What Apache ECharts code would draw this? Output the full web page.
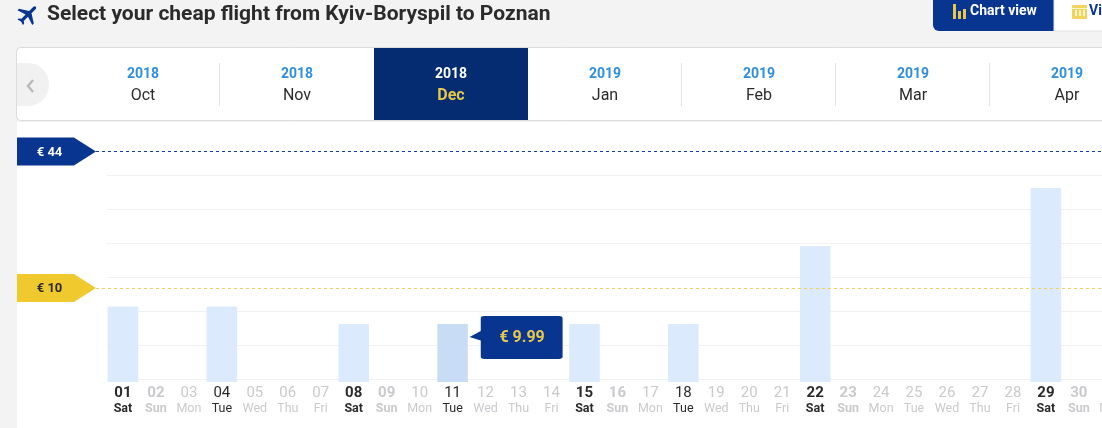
<!DOCTYPE html>
<html><head><meta charset="utf-8">
<style>html,body{margin:0;padding:0;background:#f3f3f3;overflow:hidden}#c{width:1102px;height:428px}</style>
<script src="https://cdn.jsdelivr.net/npm/echarts@6/dist/echarts.min.js"></script>
</head><body><div id="c"></div>
<script>
const days = ['01','02','03','04','05','06','07','08','09','10','11','12','13','14','15','16','17','18','19','20','21','22','23','24','25','26','27','28','29','30','31'];
const weekdays = ['Sat','Sun','Mon','Tue','Wed','Thu','Fri','Sat','Sun','Mon','Tue','Wed','Thu','Fri','Sat','Sun','Mon','Tue','Wed','Thu','Fri','Sat','Sun','Mon','Tue','Wed','Thu','Fri','Sat','Sun','Mon'];
const fares = [13,null,null,13,null,null,null,9.99,null,null,9.99,null,null,null,9.99,null,null,9.99,null,null,null,23.4,null,null,null,null,null,null,33.4,null,null];
const refFares = [44,10];
const refLabels = ['€ 44','€ 10'];
const monthYears = ['2018','2018','2018','2019','2019','2019','2019'];
const monthNames = ['Oct','Nov','Dec','Jan','Feb','Mar','Apr'];
const selectedMonth = 2, selectedDay = 10;

const NAVY='#073590', YEL='#f0c92f', DARK='#2b2b2b', GREY='#c9cacd', FONT='Roboto';
const pentagon='path://M0 0H72L100 50L72 100H0Z';
const callout='path://M12 0H96Q100 0 100 5V95Q100 100 96 100H16Q12 100 12 95V57L0 49L12 35V5Q12 0 16 0Z';

const planeShape=[[21,16],[21,14],[13,9],[13,3.5],[12.5,2.4],[11.5,2],[10.5,2.4],[10,3.5],[10,9],[2,14],[2,16],[10,13.5],[10,19],[8,20.5],[8,22],[11.5,21],[15,22],[15,20.5],[13,19],[13,13.5]];
const planePts=planeShape.map(p=>{const dx=(p[0]-11.5)*1.1,dy=(p[1]-12)*1.1,c=Math.SQRT1_2;return [28+c*dx-c*dy,14.5+c*dx+c*dy];});

const g=[];
g.push({type:'rect',z:-5,shape:{x:17,y:122,width:1085,height:306},style:{fill:'#fff'}});
g.push({type:'rect',z:-4,shape:{x:16.5,y:47.5,width:1100,height:73,r:4},style:{fill:'#fff',stroke:'#dcdcdc',lineWidth:1}});
g.push({type:'rect',z:-3,shape:{x:17,y:63,width:32,height:43,r:[0,21,21,0]},style:{fill:'#f1f1f1'}});
g.push({type:'polyline',z:-2,shape:{points:[[33,80],[28,86],[33,92]]},style:{stroke:'#b9b9b9',lineWidth:2.4,fill:null}});
g.push({type:'rect',z:-3,shape:{x:374,y:48,width:154,height:72},style:{fill:'#052b70'}});
[219.5,681.5,835.5,989.5].forEach(x=>g.push({type:'line',z:-3,shape:{x1:x,y1:63,x2:x,y2:106},style:{stroke:'#e3e3e3',lineWidth:1}}));
monthNames.forEach((m,i)=>{
  const cx=143+154*i, sel=i===selectedMonth;
  g.push({type:'text',x:cx,y:74,style:{text:monthYears[i],font:'700 14px '+FONT,fill:sel?'#fff':'#2f8fdf',align:'center',verticalAlign:'middle'}});
  g.push({type:'text',x:cx,y:96,style:{text:m,font:(sel?'700':'400')+' 16px '+FONT,fill:sel?'#e8c84a':DARK,align:'center',verticalAlign:'middle'}});
});
g.push({type:'polygon',shape:{points:planePts},style:{fill:NAVY}});
g.push({type:'text',x:47,y:15,style:{text:'Select your cheap flight from Kyiv-Boryspil to Poznan',font:'700 21px '+FONT,fill:DARK,align:'left',verticalAlign:'middle'}});
g.push({type:'rect',z:-3,shape:{x:933,y:-6,width:122,height:37,r:[0,0,0,6]},style:{fill:NAVY}});
g.push({type:'rect',z:-3,shape:{x:1054,y:-6,width:60,height:37},style:{fill:'#fff',stroke:'#e4e4e4',lineWidth:1}});
[[953,4,3,15],[958,11,3,8],[963,9,3,10]].forEach(b=>g.push({type:'rect',shape:{x:b[0],y:b[1],width:b[2],height:b[3]},style:{fill:'#e8c84a'}}));
g.push({type:'text',x:970,y:11,style:{text:'Chart view',font:'700 14px '+FONT,fill:'#fff',align:'left',verticalAlign:'middle'}});
g.push({type:'rect',shape:{x:1072,y:5,width:15,height:14,r:1},style:{fill:'#f3d45a'}});
[1075,1079,1083].forEach(x=>g.push({type:'rect',shape:{x:x,y:10,width:2,height:6},style:{fill:'#fff6d0'}}));
g.push({type:'rect',shape:{x:1072,y:8,width:15,height:1},style:{fill:'#fff6d0'}});
g.push({type:'text',x:1089,y:11,style:{text:'Vi',font:'700 14px '+FONT,fill:NAVY,align:'left',verticalAlign:'middle'}});

const option={
  animation:false,
  backgroundColor:'#f3f3f3',
  textStyle:{fontFamily:FONT},
  graphic:g,
  tooltip:{show:false},
  grid:[
    {left:106.5,top:126.5,width:1021.8,height:255.5,outerBoundsMode:'none'},
    {left:106.5,top:175,width:1021.8,height:204,outerBoundsMode:'none'},
    {left:17,top:151.5,width:1085,height:176.5,outerBoundsMode:'none'}
  ],
  xAxis:[
    {gridIndex:0,type:'category',data:days,axisLine:{show:false},axisTick:{show:false},
     axisLabel:{interval:0,margin:3,lineHeight:16,hideOverlap:false,
       formatter:(v,i)=>{
         const wd=weekdays[i], has=fares[i]!=null;
         const s=wd==='Sat'?'sat':wd==='Sun'?'sun':has?'fl':'off';
         return '{'+s+'|'+v+'}\n{'+s+'W|'+wd+'}';
       },
       rich:{
         sat:{fontFamily:FONT,fontSize:15,fontWeight:700,color:DARK,height:16},
         satW:{fontFamily:FONT,fontSize:12.5,fontWeight:700,color:DARK,height:16},
         sun:{fontFamily:FONT,fontSize:15,fontWeight:700,color:GREY,height:16},
         sunW:{fontFamily:FONT,fontSize:12.5,fontWeight:700,color:GREY,height:16},
         fl:{fontFamily:FONT,fontSize:15,color:DARK,height:16},
         flW:{fontFamily:FONT,fontSize:12.5,color:DARK,height:16},
         off:{fontFamily:FONT,fontSize:15,color:GREY,height:16},
         offW:{fontFamily:FONT,fontSize:12.5,color:GREY,height:16}
       }}},
    {gridIndex:1,type:'category',data:days,show:false},
    {gridIndex:2,type:'value',min:0,max:1085,show:false}
  ],
  yAxis:[
    {gridIndex:0,type:'value',min:0,max:44,show:false,splitLine:{show:false}},
    {gridIndex:1,type:'value',min:0,max:6,interval:1,axisLine:{show:false},axisTick:{show:false},axisLabel:{show:false},splitLine:{show:true,lineStyle:{color:'#f0f1f2',width:1}}},
    {gridIndex:2,type:'value',min:0,max:44,show:false,splitLine:{show:false}}
  ],
  series:[
    {type:'bar',xAxisIndex:0,yAxisIndex:0,z:3,barWidth:30.5,
     data:fares.map((v,i)=>({value:v,itemStyle:{color:i===selectedDay?'#c9dcf5':'#dbeafc',borderRadius:[1,1,0,0]}})),
     markPoint:{silent:true,animation:false,z:6,data:[{
       coord:[days[selectedDay],fares[selectedDay]],
       symbol:callout,symbolSize:[93,43],symbolOffset:[63.5,13.5],
       itemStyle:{color:NAVY},
       label:{show:true,position:'inside',offset:[6,1],formatter:'€ '+fares[selectedDay],fontFamily:FONT,fontSize:16,fontWeight:700,color:'#e8c84a'}
     }]}},
    {type:'scatter',xAxisIndex:2,yAxisIndex:2,symbolSize:0,silent:true,z:4,
     data:refFares.map(v=>[79,v]),
     markLine:{silent:true,animation:false,symbol:'none',label:{show:false},
       data:refFares.map((v,i)=>[
         {coord:[79,v],lineStyle:{color:i===0?'#0f3f9f':'#f0d060',type:[3,3],width:1}},
         {coord:[1085,v]}])},
     markPoint:{silent:true,animation:false,
       data:refFares.map((v,i)=>({
         coord:[39.5,v],symbol:pentagon,symbolSize:[79,28],
         itemStyle:{color:i===0?NAVY:YEL},
         label:{show:true,position:'inside',offset:[-7,1],formatter:refLabels[i],fontFamily:FONT,fontSize:13,fontWeight:700,color:i===0?'#fff':DARK}
       }))}}
  ]
};
const chart=echarts.init(document.getElementById('c'),null,{renderer:'canvas'});
chart.setOption(option);
</script></body></html>
